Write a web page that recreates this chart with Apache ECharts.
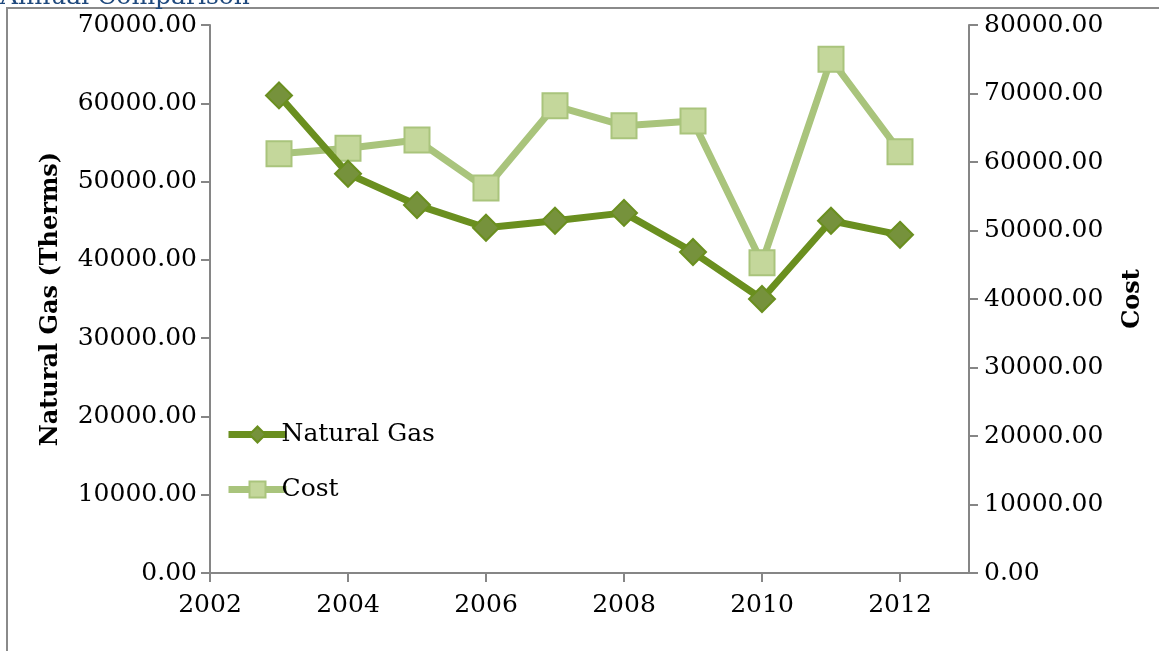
<!DOCTYPE html>
<html>
<head>
<meta charset="utf-8">
<script src="https://cdn.jsdelivr.net/npm/echarts@6/dist/echarts.min.js"></script>
<style>
html,body{margin:0;padding:0;background:#fff;}
#chart{width:1159px;height:651px;}
</style>
</head>
<body>
<div id="chart"></div>
<script>
const years = [2003, 2004, 2005, 2006, 2007, 2008, 2009, 2010, 2011, 2012];
const naturalGas = [61000, 51000, 47000, 44100, 45000, 46000, 41000, 35000, 45000, 43200];
const cost = [61200, 62000, 63200, 56200, 68200, 65300, 66000, 45300, 75000, 61500];
const leftTicks = { min: 0, max: 70000, interval: 10000 };
const rightTicks = { min: 0, max: 80000, interval: 10000 };
const xTicks = { min: 2002, max: 2013, interval: 2 };

const FONT = 'DejaVu Serif';
const axisGray = '#868686';
const chart = echarts.init(document.getElementById('chart'));
const fmt = v => v.toFixed(2);
const gasLine = '#6A8F1F', gasFill = '#76923C';
const costLine = '#A9C47C', costFill = '#C4D79B';

chart.setOption({
  animation: false,
  textStyle: { fontFamily: FONT },
  graphic: [
    { type: 'rect', shape: { x: 7, y: 8, width: 1200, height: 700 }, style: { fill: 'none', stroke: '#8a8a8a', lineWidth: 2 }, z: 0 },
    { type: 'text', left: 0, top: -15, style: { text: 'Annual Comparison', fill: '#1F497D', font: '25px "DejaVu Serif"' } }
  ],
  grid: { left: 210, right: 190, top: 25, bottom: 78 },
  legend: {
    orient: 'vertical', left: 220, top: 417, itemWidth: 58, itemHeight: 20, itemGap: 30,
    textStyle: { fontFamily: FONT, fontSize: 25, color: '#000', padding: [0, 0, 0, -10] },
    data: [
      { name: 'Natural Gas', lineStyle: { width: 7, color: gasLine }, itemStyle: { color: gasFill, borderColor: gasLine, borderWidth: 2 } },
      { name: 'Cost', lineStyle: { width: 7, color: costLine }, itemStyle: { color: costFill, borderColor: costLine, borderWidth: 2 } }
    ]
  },
  xAxis: {
    type: 'value', min: xTicks.min, max: xTicks.max, interval: xTicks.interval,
    axisLine: { show: true, onZero: false, lineStyle: { color: axisGray, width: 2 } },
    axisTick: { show: true, length: 9, lineStyle: { color: axisGray, width: 2 } },
    axisLabel: { fontFamily: FONT, fontSize: 25, color: '#000', margin: 20, showMaxLabel: false,
      formatter: v => (v % 2 === 0 ? String(v) : '') },
    splitLine: { show: false }
  },
  yAxis: [
    {
      type: 'value', min: leftTicks.min, max: leftTicks.max, interval: leftTicks.interval,
      name: 'Natural Gas (Therms)', nameLocation: 'middle', nameGap: 147, nameRotate: 90,
      nameTextStyle: { fontFamily: FONT, fontSize: 24, fontWeight: 'bold', color: '#000' },
      axisLine: { show: true, lineStyle: { color: axisGray, width: 2 } },
      axisTick: { show: true, length: 9, lineStyle: { color: axisGray, width: 2 } },
      axisLabel: { fontFamily: FONT, fontSize: 25, color: '#000', margin: 13, formatter: fmt },
      splitLine: { show: false }
    },
    {
      type: 'value', min: rightTicks.min, max: rightTicks.max, interval: rightTicks.interval,
      position: 'right',
      name: 'Cost', nameLocation: 'middle', nameGap: 152, nameRotate: 90,
      nameTextStyle: { fontFamily: FONT, fontSize: 24, fontWeight: 'bold', color: '#000' },
      axisLine: { show: true, lineStyle: { color: axisGray, width: 2 } },
      axisTick: { show: true, length: 9, lineStyle: { color: axisGray, width: 2 } },
      axisLabel: { fontFamily: FONT, fontSize: 25, color: '#000', margin: 15, formatter: fmt },
      splitLine: { show: false }
    }
  ],
  series: [
    {
      name: 'Natural Gas', type: 'line', yAxisIndex: 0,
      data: years.map((y, i) => [y, naturalGas[i]]),
      symbol: 'diamond', symbolSize: 26,
      lineStyle: { color: gasLine, width: 7 },
      itemStyle: { color: gasFill, borderColor: gasLine, borderWidth: 2 },
      z: 3
    },
    {
      name: 'Cost', type: 'line', yAxisIndex: 1,
      data: years.map((y, i) => [y, cost[i]]),
      symbol: 'rect', symbolSize: 25,
      lineStyle: { color: costLine, width: 7 },
      itemStyle: { color: costFill, borderColor: costLine, borderWidth: 2 },
      z: 2
    }
  ]
});
</script>
</body>
</html>
